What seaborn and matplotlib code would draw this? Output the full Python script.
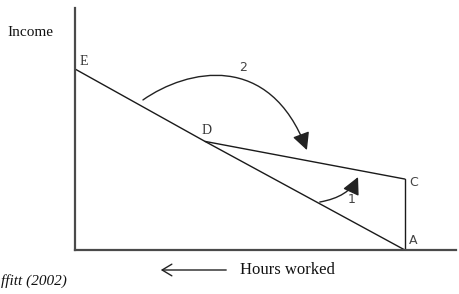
import matplotlib
matplotlib.use("Agg")
import matplotlib.pyplot as plt
import seaborn as sns
import pandas as pd
from matplotlib.patches import FancyArrowPatch
from matplotlib.path import Path

sns.set_theme(style="white")
plt.rcParams['font.family'] = ['Liberation Serif', 'DejaVu Serif']

# Budget constraint points (hours-of-leisure axis, income axis)
point_names = ["E", "D", "A", "C"]
point_x = [0.0, 3.94, 10.0, 10.0]
point_y = [10.0, 6.0, 0.0, 3.92]

# Segments of the budget constraint: E-D-A (no program), D-C (with program), C-A (vertical)
seg_ED_A_x = [point_x[0], point_x[1], point_x[2]]
seg_ED_A_y = [point_y[0], point_y[1], point_y[2]]
seg_DC_x = [point_x[1], point_x[3]]
seg_DC_y = [point_y[1], point_y[3]]
seg_CA_x = [point_x[3], point_x[2]]
seg_CA_y = [point_y[3], point_y[2]]

# Annotation arrows (movement of workers): start, control points, end
arrow2_x = [2.06, 3.4, 5.9, 7.03]
arrow2_y = [8.29, 10.0, 11.0, 5.52]
arrow1_start = (7.42, 2.65)
arrow1_end = (8.58, 4.03)

fig = plt.figure(figsize=(4.59, 2.94), dpi=100)
ax = fig.add_axes([75/459, 44/294, 381/459, 242/294])

df1 = pd.DataFrame({"x": seg_ED_A_x, "y": seg_ED_A_y})
df2 = pd.DataFrame({"x": seg_DC_x, "y": seg_DC_y})
df3 = pd.DataFrame({"x": seg_CA_x, "y": seg_CA_y})
for d in (df1, df2, df3):
    sns.lineplot(data=d, x="x", y="y", ax=ax, color="#1a1a1a", lw=1.0,
                 sort=False, estimator=None)

ax.set_xlim(0, 11.55)
ax.set_ylim(0, 13.37)
ax.set_xticks([])
ax.set_yticks([])
ax.set_xlabel("")
ax.set_ylabel("")
for s in ("top", "right"):
    ax.spines[s].set_visible(False)
for s in ("left", "bottom"):
    ax.spines[s].set_color("#4a4a4a")
    ax.spines[s].set_linewidth(1.6)

# Point labels
ax.text(point_x[0] + 0.15, point_y[0] + 0.05, "E", fontsize=10, color="#333333",
        ha="left", va="bottom", family=["Liberation Serif"])
ax.text(point_x[1] + 0.05, point_y[1] + 0.25, "D", fontsize=10, color="#333333",
        ha="center", va="bottom", family=["Liberation Serif"])
ax.text(point_x[3] + 0.12, point_y[3] - 0.2, "C", fontsize=9, color="#444444",
        ha="left", va="center", family=["DejaVu Sans"])
ax.text(point_x[2] + 0.12, 0.15, "A", fontsize=9, color="#444444",
        ha="left", va="bottom", family=["DejaVu Sans"])

# Arrow 2 (curved cubic)
verts = list(zip(arrow2_x, arrow2_y))
path2 = Path(verts, [Path.MOVETO, Path.CURVE4, Path.CURVE4, Path.CURVE4])
a2 = FancyArrowPatch(path=path2, arrowstyle="-|>,head_length=0.75,head_width=0.38",
                     mutation_scale=14, color="#222222", lw=1.0,
                     transform=ax.transData)
ax.add_patch(a2)
ax.text(5.09, 10.1, "2", fontsize=9, color="#444444", ha="center", va="center",
        family=["DejaVu Sans"])

# Arrow 1
ax.annotate("", xy=arrow1_end, xytext=arrow1_start,
            arrowprops=dict(arrowstyle="-|>,head_length=0.75,head_width=0.38",
                            mutation_scale=14, color="#222222", lw=1.0,
                            connectionstyle="angle3,angleA=10,angleB=65",
                            shrinkA=0, shrinkB=0))
ax.text(8.4, 2.8, "1", fontsize=9, color="#444444", ha="center", va="center",
        family=["DejaVu Sans"])

# Axis labels
fig.text(7/459, 1 - 33/294, "Income", fontsize=11, ha="left", va="center",
         color="#111111")
fig.text(240/459, 1 - 270/294, "Hours worked", fontsize=12, ha="left", va="center",
         color="#111111")
fig.patches.append(FancyArrowPatch((229/459, 1 - 270/294), (158/459, 1 - 270/294),
                                   transform=fig.transFigure, figure=fig,
                                   arrowstyle="->,head_length=0.5,head_width=0.3",
                                   mutation_scale=14, color="#222222", lw=1.0))
# Source note (only the visible part of "Moffitt (2002)" fits in the frame)
fig.text(1/459, 1 - 281/294, "ffitt (2002)", fontsize=11, ha="left", va="center",
         style="italic", color="#111111")

fig.savefig("out.png", dpi=100)
